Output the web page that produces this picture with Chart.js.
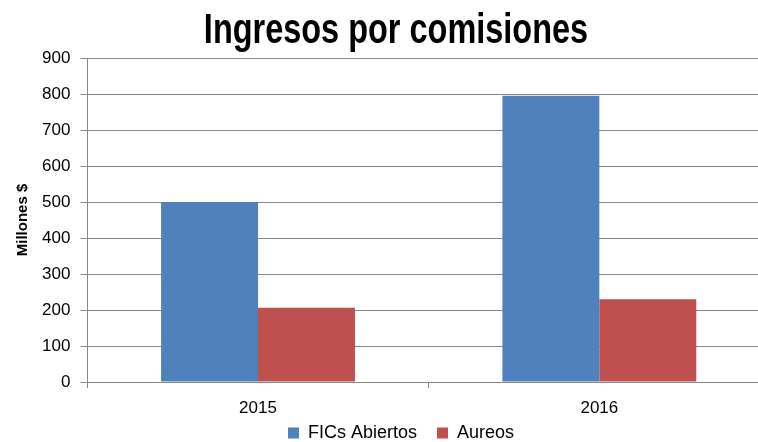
<!DOCTYPE html>
<html>
<head>
<meta charset="utf-8">
<script src="https://cdn.jsdelivr.net/npm/chart.js@4.4.0/dist/chart.umd.min.js"></script>
<style>
  html, body { margin:0; padding:0; background:#fff; overflow:hidden; }
  /* plot runs a little past the right edge, as in the reference */
  #wrap { width:770px; height:442px; position:relative; }
</style>
</head>
<body>
<div id="wrap"><canvas id="chart"></canvas></div>
<script>
// Data
const years = ['2015', '2016'];
const ficsAbiertos = [500, 795];
const aureos = [206, 230];
const yTicks = [0, 100, 200, 300, 400, 500, 600, 700, 800, 900];
const titleText = 'Ingresos por comisiones';

const FONT = "'Liberation Sans', Arial, sans-serif";

// Narrow bold title (reference uses a condensed face)
const narrowTitle = {
  id: 'narrowTitle',
  afterDraw(chart) {
    const ctx = chart.ctx;
    ctx.save();
    ctx.font = 'bold 43px ' + FONT;
    ctx.fillStyle = '#000';
    ctx.textAlign = 'center';
    ctx.textBaseline = 'alphabetic';
    ctx.translate(396, 43);
    ctx.scale(0.755, 1);
    ctx.fillText(titleText, 0, 0);
    ctx.restore();
  }
};

// small legend box, items nudged up/right when drawn
const tightLegend = {
  id: 'tightLegend',
  beforeInit(chart) {
    const lg = chart.legend;
    const fit = lg.fit;
    lg.fit = function () {
      fit.call(this);
      this.height = 20;
    };
    const draw = lg.draw;
    lg.draw = function () {
      const top = this.top, left = this.left;
      this.top -= 18;
      this.left += 24;
      draw.call(this);
      this.top = top;
      this.left = left;
    };
  }
};

new Chart(document.getElementById('chart'), {
  type: 'bar',
  data: {
    labels: years,
    datasets: [
      { label: 'FICs Abiertos', data: ficsAbiertos, backgroundColor: '#4f81bd' },
      { label: 'Aureos', data: aureos, backgroundColor: '#c0504d' }
    ]
  },
  plugins: [narrowTitle, tightLegend],
  options: {
    responsive: true, maintainAspectRatio: false, animation: false,
    layout: { padding: { left: 8, right: 0, top: 58, bottom: 0 } },
    categoryPercentage: 0.568, barPercentage: 1,
    plugins: {
      title: { display: false },
      legend: {
        position: 'bottom',
        labels: {
          color: '#000', font: { family: FONT, size: 18 },
          boxWidth: 11, boxHeight: 11, padding: 20
        }
      },
      tooltip: { enabled: false }
    },
    scales: {
      x: {
        afterFit: axis => { axis.height = 40; },
        grid: { display: true, drawOnChartArea: false, color: '#888', tickLength: 6 },
        border: { color: '#888' },
        ticks: { color: '#000', font: { family: FONT, size: 17 }, padding: 10 }
      },
      y: {
        min: 0, max: 900,
        afterBuildTicks: axis => { axis.ticks = yTicks.map(v => ({ value: v })); },
        grid: { color: '#888', tickLength: 7 },
        border: { color: '#888' },
        ticks: { color: '#000', font: { family: FONT, size: 17 }, padding: 10 },
        title: {
          display: true, text: 'Millones $', color: '#000',
          font: { family: FONT, size: 15, weight: 'bold' }, padding: { top: 6, bottom: 0 }
        }
      }
    }
  }
});
</script>
</body>
</html>
